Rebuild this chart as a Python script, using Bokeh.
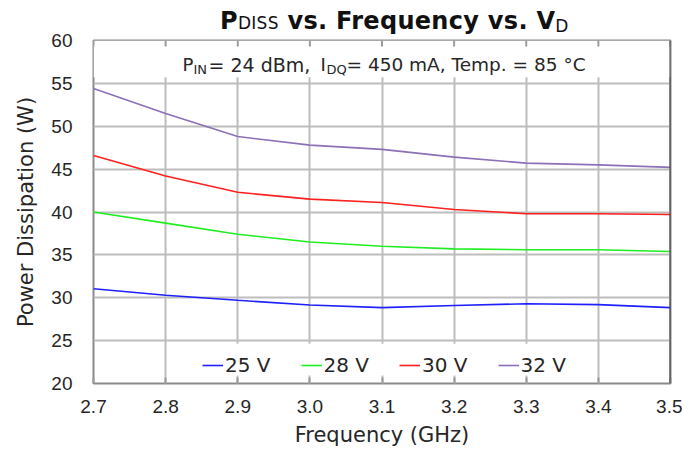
import math
from bokeh.plotting import figure
from bokeh.layouts import column
from bokeh.models import (Label, BoxAnnotation, Legend, LegendItem, Div,
                          FixedTicker, Span, Range1d, CustomJSTickFormatter)
from bokeh.embed import file_html
from bokeh.resources import INLINE

# ---- data ----
freq_ghz = [2.7, 2.8, 2.9, 3.0, 3.1, 3.2, 3.3, 3.4, 3.5]
pdiss_25v = [31.05, 30.3, 29.7, 29.15, 28.85, 29.1, 29.3, 29.2, 28.85]
pdiss_28v = [40.0, 38.7, 37.4, 36.5, 36.0, 35.7, 35.6, 35.6, 35.4]
pdiss_30v = [46.6, 44.2, 42.3, 41.5, 41.1, 40.3, 39.8, 39.8, 39.7]
pdiss_32v = [54.4, 51.5, 48.8, 47.8, 47.3, 46.4, 45.7, 45.5, 45.2]
series_labels = ["25 V", "28 V", "30 V", "32 V"]
series_colors = ["#2020ff", "#20ee20", "#ff2020", "#8c70b8"]
x_ticks = [2.7, 2.8, 2.9, 3.0, 3.1, 3.2, 3.3, 3.4, 3.5]
y_ticks = [20, 25, 30, 35, 40, 45, 50, 55, 60]
x_min, x_max = 2.7, 3.5
y_min, y_max = 20, 60

TXT = "#262626"
GRID = "#bdbdbd"
TICK = "#9a9a9a"

# ---- title (rich text with subscripts) ----
title_html = (
    '<span style="position:relative; top:7px; letter-spacing:0.3px">'
    '<span style="font-weight:bold">P</span>'
    '<span style="font-size:17px">DISS</span>'
    '<span style="font-weight:bold"> vs. Frequency vs. V</span>'
    '<span style="font-size:17px; position:relative; top:3px">D</span>'
    '</span>'
)
title = Div(text=title_html, width=682, height=28, margin=0,
            styles={"font-family": "DejaVu Sans", "font-size": "24px",
                    "color": "#111111", "white-space": "nowrap",
                    "padding-left": "220px", "line-height": "28px",
                    "overflow": "visible"})

p = figure(width=682, height=421, output_backend="svg", toolbar_location=None,
           x_range=Range1d(x_min, x_max), y_range=Range1d(y_min, y_max),
           min_border_left=93, min_border_right=12, min_border_top=12,
           min_border_bottom=65, background_fill_color="white",
           border_fill_alpha=0)
p.outline_line_color = "#8a8a8a"
p.outline_line_width = 2

# axes
p.xaxis.ticker = FixedTicker(ticks=x_ticks)
p.yaxis.ticker = FixedTicker(ticks=y_ticks)
p.xaxis.formatter = CustomJSTickFormatter(code="return tick.toFixed(1);")
for ax in (p.xaxis, p.yaxis):
    ax.axis_line_color = None
    ax.major_tick_out = 0
    ax.minor_tick_line_color = None
    ax.major_label_text_font = "Liberation Sans"
    ax.major_label_text_font_size = "19px"
    ax.major_label_text_color = TXT
    ax.axis_label_text_font = "DejaVu Sans"
    ax.axis_label_text_font_size = "21px"
    ax.axis_label_text_font_style = "normal"
    ax.axis_label_text_color = TXT
p.xaxis.major_tick_in = 6
p.xaxis.major_tick_line_color = TICK
p.xaxis.major_tick_line_width = 2
p.yaxis.major_tick_in = 0
p.yaxis.major_tick_line_color = None
p.xaxis.axis_label = "Frequency (GHz)"
p.yaxis.axis_label = "Power Dissipation (W)"
p.xaxis.major_label_standoff = 16
p.yaxis.major_label_standoff = 21
p.xaxis.axis_label_standoff = 7
p.yaxis.axis_label_standoff = 10

p.grid.grid_line_color = GRID
p.grid.grid_line_width = 2
p.xgrid.ticker = FixedTicker(ticks=x_ticks)
p.ygrid.ticker = FixedTicker(ticks=y_ticks)

# white boxes behind annotation text and legend
p.add_layout(BoxAnnotation(bottom=55.7, top=y_max, fill_color="white", fill_alpha=1,
                           line_alpha=0, level="underlay"))
p.add_layout(BoxAnnotation(left=2.807, right=3.395, bottom=20.93, top=24.65,
                           fill_color="white", fill_alpha=1, line_alpha=0,
                           level="underlay"))
p.add_layout(Span(location=x_max, dimension="height", line_color="#3c3c3c",
                  line_width=2))

# inward tick marks along the top edge of the frame
p.scatter(x=x_ticks, y=[y_max] * len(x_ticks), marker="dash", angle=math.pi / 2,
          size=12, line_color=TICK, line_width=2)

# series
renderers = []
for ys, c in zip([pdiss_25v, pdiss_28v, pdiss_30v, pdiss_32v], series_colors):
    r = p.line(freq_ghz, ys, line_color=c, line_width=1.6)
    renderers.append(r)

legend = Legend(items=[LegendItem(label=l, renderers=[r])
                       for l, r in zip(series_labels, renderers)],
                orientation="horizontal", location=(109, 6),
                glyph_width=21, glyph_height=20, label_standoff=2, spacing=30,
                padding=0, margin=0, background_fill_alpha=0,
                border_line_alpha=0, label_text_font="DejaVu Sans",
                label_text_font_size="20px", label_text_color=TXT)
p.add_layout(legend)

# condition line inside the frame (screen units relative to the frame)
def seg(text, x, y, size):
    p.add_layout(Label(x=x, y=y, x_units="screen", y_units="screen", text=text,
                       text_font="DejaVu Sans", text_font_size=size,
                       text_color=TXT, text_baseline="alphabetic",
                       text_align="left"))

seg("P", 89, 319, "18px")
seg("IN", 100, 314, "13px")
seg("= 24 dBm,", 115, 319, "19px")
seg("I", 227, 319, "18px")
seg("DQ", 233, 314, "13px")
seg(" = 450 mA, Temp. = 85 °C", 253, 319, "18.5px")

layout = column(title, p, spacing=0)
open("out.html", "w").write(file_html(layout, INLINE))
